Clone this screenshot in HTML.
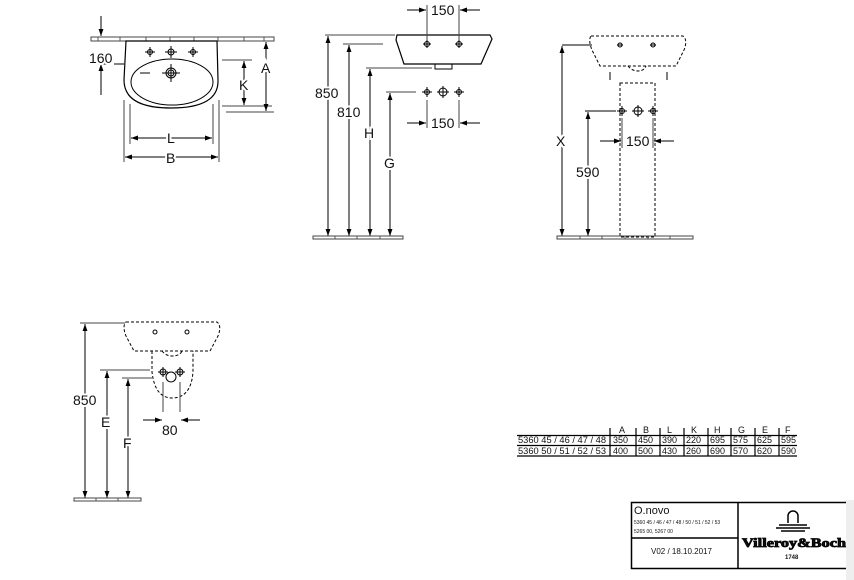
<!DOCTYPE html>
<html><head><meta charset="utf-8"><style>
html,body{margin:0;padding:0;background:#fff;}
svg{display:block;font-family:"Liberation Sans",sans-serif;}
.lb{paint-order:stroke;stroke:#fff;stroke-width:4px;}
</style></head><body>
<svg width="854" height="580" viewBox="0 0 854 580" xmlns="http://www.w3.org/2000/svg">
<defs>
<marker id="a" viewBox="0 0 10 10" refX="10" refY="5" markerWidth="7" markerHeight="7" orient="auto-start-reverse" markerUnits="userSpaceOnUse"><path d="M0,1.5 L10,5 L0,8.5 z" fill="#000"/></marker>
</defs>
<g fill="none" stroke="#000" stroke-width="1">
<!-- VIEW 1 -->
<rect x="91" y="37" width="183" height="4" stroke="#444"/>
<path d="M98 37v4M120 37v4M146 37v4M170 37v4M194 37v4M218 37v4M244 37v4M264 37v4" stroke="#555"/>
<path d="M126 41 L124 80 Q124 108 171 108 Q219 108 218 80 L217 41 Z" stroke-width="1.2"/>
<ellipse cx="172" cy="82" rx="41" ry="23"/>
<circle cx="171" cy="73" r="5"/><circle cx="171" cy="73" r="3"/>
<path d="M171 64v18M162 73h18M140 73h10"/>
<g stroke-width="1"><circle cx="150" cy="52" r="2.5"/><circle cx="171" cy="52" r="3"/><circle cx="193" cy="52" r="2.5"/>
<path d="M150 47v10M145 52h10M171 46v12M165 52h12M193 47v10M188 52h10"/></g>
<path d="M101 16 L101 36" marker-end="url(#a)"/>
<path d="M101 95 L101 64" marker-end="url(#a)"/>
<path d="M96 64h28" stroke-dasharray="14 4"/>
<path d="M222 60h30M222 106h50M226 112h48" stroke="#444"/>
<path d="M244 61 L244 105" marker-start="url(#a)" marker-end="url(#a)"/>
<path d="M266 42 L266 111" marker-start="url(#a)" marker-end="url(#a)"/>
<path d="M124 100v62M219 100v62M130 104v40M213 104v40" stroke="#444"/>
<path d="M131 138 L212 138" marker-start="url(#a)" marker-end="url(#a)"/>
<path d="M125 157 L218 157" marker-start="url(#a)" marker-end="url(#a)"/>
<!-- VIEW 2 -->
<path d="M397 35 L490 35 L492 39 L481 64 L404 64 L396 40 Z" stroke-width="1.2"/>
<path d="M435 64v5h17v-5"/>
<circle cx="427" cy="44" r="2.5"/><circle cx="459" cy="44" r="2.5"/>
<path d="M427 40v8M423 44h8M459 40v8M455 44h8"/>
<path d="M427 5v35M459 5v35" stroke="#444"/>
<path d="M407 10 L426 10" marker-end="url(#a)"/><path d="M480 10 L460 10" marker-end="url(#a)"/>
<circle cx="427" cy="92" r="2.5"/><circle cx="443" cy="92" r="4"/><circle cx="459" cy="92" r="2.5"/>
<path d="M427 87v10M422 92h10M443 86v12M437 92h12M459 87v10M454 92h10"/>
<path d="M427 100v28M459 100v28" stroke="#444"/>
<path d="M407 123 L426 123" marker-end="url(#a)"/><path d="M480 123 L460 123" marker-end="url(#a)"/>
<path d="M325 35h70M343 44h40M366 68h66M386 92h30" stroke="#444"/>
<path d="M328 36 L328 236" marker-start="url(#a)" marker-end="url(#a)"/>
<path d="M349 45 L349 236" marker-start="url(#a)" marker-end="url(#a)"/>
<path d="M370 69 L370 236" marker-start="url(#a)" marker-end="url(#a)"/>
<path d="M390 93 L390 236" marker-start="url(#a)" marker-end="url(#a)"/>
<rect x="313" y="236" width="90" height="3" stroke="#444"/>
<path d="M335 236v3M357 236v3M380 236v3" stroke="#555"/>
<!-- VIEW 3 -->
<g stroke-dasharray="3 2">
<path d="M591 36 L683 36 Q688 40 684 50 L676 66 L600 66 L592 50 Q588 40 591 36 Z"/>
<path d="M628 66 Q632 71 638 71 Q644 71 646 66"/>
<rect x="620" y="83" width="35" height="154"/>
</g>
<circle cx="620" cy="45" r="2"/><circle cx="653" cy="45" r="2"/>
<path d="M617 45h6M650 45h6M562 45h30"/>
<circle cx="622" cy="111" r="2.5"/><circle cx="638" cy="111" r="4"/><circle cx="653" cy="111" r="2.5"/>
<path d="M622 106v10M617 111h10M638 105v12M632 111h12M653 106v10M648 111h10M585 111h31"/>
<path d="M622 118v30M653 118v30" stroke="#444"/>
<path d="M600 141 L621 141" marker-end="url(#a)"/><path d="M674 141 L654 141" marker-end="url(#a)"/>
<path d="M610 72v8M667 72v8"/>
<path d="M562 46 L562 236" marker-start="url(#a)" marker-end="url(#a)"/>
<path d="M588 112 L588 236" marker-start="url(#a)" marker-end="url(#a)"/>
<rect x="557" y="236" width="136" height="3" stroke="#444"/>
<path d="M580 236v3M602 236v3M625 236v3M648 236v3M670 236v3" stroke="#555"/>
<!-- VIEW 4 -->
<g stroke-dasharray="3 2">
<path d="M126 322 L217 322 Q222 326 218 336 L210 351 L134 351 L126 336 Q122 326 126 322 Z"/>
<path d="M152 351 L152 372 Q155 398 172 398 Q191 398 193 372 L193 351"/>
<path d="M162 351 Q166 356 172 356 Q180 356 182 351"/>
</g>
<circle cx="155" cy="332" r="2"/><circle cx="187" cy="332" r="2"/>
<circle cx="163" cy="372" r="3"/><circle cx="171" cy="377" r="5"/><circle cx="180" cy="372" r="3"/>
<path d="M163 367v10M158 372h10M180 367v10M175 372h10"/>
<path d="M163 382v30M180 382v30" stroke="#444"/>
<path d="M143 420 L162 420" marker-end="url(#a)"/><path d="M200 420 L181 420" marker-end="url(#a)"/>
<path d="M80 323h45M100 370h50M122 378h30" stroke="#444"/>
<path d="M85 324 L85 498" marker-start="url(#a)" marker-end="url(#a)"/>
<path d="M107 371 L107 498" marker-start="url(#a)" marker-end="url(#a)"/>
<path d="M128 379 L128 498" marker-start="url(#a)" marker-end="url(#a)"/>
<rect x="74" y="498" width="67" height="3" stroke="#444"/>
<path d="M96 498v3M118 498v3" stroke="#555"/>
<!-- TABLE -->
<path d="M517 435.5h280M517 445.5h280M517 456h280" stroke-width="1.2"/>
<path d="M610 428v28M636 428v28M660 428v28M684 428v28M708 428v28M731 428v28M755 428v28M779 428v28" stroke-width="1.2"/>
<!-- TITLE BLOCK -->
<rect x="631.5" y="502.5" width="222" height="66" stroke-width="1.5"/>
<path d="M738 502v66M631 538h107" stroke-width="1.5"/>
</g>
<g fill="#111" font-size="14" class="lb">
<text x="89" y="63">160</text>
<text x="261" y="73">A</text>
<text x="239" y="90">K</text>
<text x="167" y="143">L</text>
<text x="166" y="163">B</text>
<text x="431" y="15">150</text>
<text x="431" y="128">150</text>
<text x="315" y="98">850</text>
<text x="337" y="117">810</text>
<text x="364" y="138">H</text>
<text x="384" y="168">G</text>
<text x="556" y="146">X</text>
<text x="576" y="177">590</text>
<text x="626" y="146">150</text>
<text x="73" y="405">850</text>
<text x="101" y="427">E</text>
<text x="123" y="448">F</text>
<text x="162" y="435">80</text>
</g>
<g fill="#111" font-size="9">
<text x="619" y="433">A</text><text x="643" y="433">B</text><text x="667" y="433">L</text><text x="691" y="433">K</text><text x="714" y="433">H</text><text x="738" y="433">G</text><text x="762" y="433">E</text><text x="785" y="433">F</text>
<text x="518" y="443" textLength="88" lengthAdjust="spacingAndGlyphs">5360 45 / 46 / 47 / 48</text>
<text x="613" y="443">350</text><text x="638" y="443">450</text><text x="662" y="443">390</text><text x="686" y="443">220</text><text x="710" y="443">695</text><text x="733" y="443">575</text><text x="757" y="443">625</text><text x="781" y="443">595</text>
<text x="518" y="454" textLength="88" lengthAdjust="spacingAndGlyphs">5360 50 / 51 / 52 / 53</text>
<text x="613" y="454">400</text><text x="638" y="454">500</text><text x="662" y="454">430</text><text x="686" y="454">260</text><text x="710" y="454">690</text><text x="733" y="454">570</text><text x="757" y="454">620</text><text x="781" y="454">590</text>
</g>
<g fill="#111">
<text x="634" y="514" font-size="11">O.novo</text>
<text x="634" y="524" font-size="5">5360 45 / 46 / 47 / 48 / 50 / 51 / 52 / 53</text>
<text x="634" y="533" font-size="5">5265 00, 5267 00</text>
<text x="651" y="554" font-size="8">V02 / 18.10.2017</text>
<text x="742" y="547" font-size="13" font-family="Liberation Serif,serif" font-weight="bold" textLength="104" lengthAdjust="spacingAndGlyphs" stroke="#000" stroke-width="0.8">Villeroy&amp;Boch</text>
<text x="785" y="559" font-size="6" font-weight="bold">1748</text>
</g>
<g stroke="#000" fill="none" stroke-width="1.5">
<path d="M788 523v-7a5 5 0 0 1 10 0v7"/>
<path d="M779 525h28M776 528h34M781 531h24"/>
</g>
<rect x="846" y="500" width="8" height="80" fill="#eee"/>
</svg>
</body></html>
